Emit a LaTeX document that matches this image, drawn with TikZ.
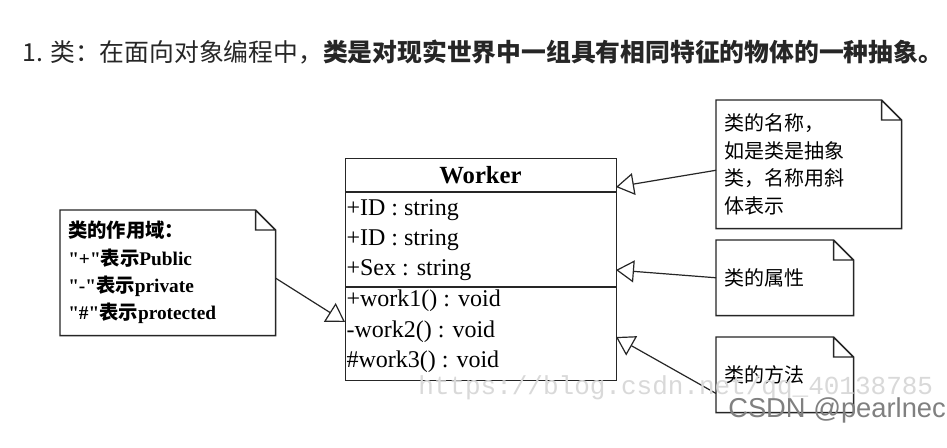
\documentclass[tikz,border=0pt]{standalone}
\usepackage{fontspec}
\setmainfont{Liberation Serif}
\setsansfont{Liberation Sans}
\setmonofont{Liberation Mono}
\newfontfamily\cjk{Noto Sans CJK SC}
\usetikzlibrary{arrows.meta, positioning}
\newcommand{\fold}{15pt}

\begin{document}
\begin{tikzpicture}[x=0.75pt, y=-0.75pt,
		note/.style={inner xsep=6pt, inner ysep=0pt, align=left, anchor=north west},
		row/.style={anchor=west, inner sep=1pt, font=\fontsize{18}{20}\selectfont},
		inherit/.style={-{Triangle[open, length=13.5pt, width=16.5pt]}, line width=0.9pt, draw=black!85}]
				\useasboundingbox[fill=white] (0,0) rectangle (947,447);
				
				\node[anchor=west, inner sep=0pt, text=black!85, font=\cjk\fontsize{18.6}{20}\selectfont] (head) at (22,52) {1. 类：在面向对象编程中，{\bfseries 类是对现实世界中一组具有相同特征的物体的一种抽象。}};
				
				\node[draw=black!85, line width=1.1pt, minimum width=203.25pt, minimum height=166.5pt, anchor=north west, inner sep=0pt] (worker) at (345,158) {};
				\node[font=\bfseries\fontsize{18.5}{20}\selectfont] (cname) at (480.5,175) {Worker};
				\coordinate (sepA) at (345,192);
				\coordinate (sepB) at (345,287);
				\draw[draw=black!85, line width=1.1pt] (sepA) -- (sepA -| worker.east) (sepB) -- (sepB -| worker.east);
				
				\node[row] (id1) at (345,210) {+ID : string};
				\node[row] (id2) at (345,240) {+ID : string};
				\node[row] (sex) at (345,270) {+Sex : string};
				\node[row] (work1) at (345,301) {+work1() : void};
				\node[row] (work2) at (345,332) {-work2() : void};
				\node[row] (work3) at (345,362) {\#work3() : void};
				
				\node[note, minimum width=161.25pt, minimum height=93.75pt, text width=149.25pt, font=\bfseries\fontsize{14.5}{20.5}\selectfont] (scope) at (60,210) {{\cjk 类的作用域：}\\\textquotedbl+\textquotedbl{\cjk 表示}Public\\\textquotedbl-\textquotedbl{\cjk 表示}private\\\textquotedbl\#\textquotedbl{\cjk 表示}protected};
				\node[note, minimum width=138.75pt, minimum height=96pt, text width=126.75pt, font=\cjk\fontsize{15}{20.8}\selectfont] (name) at (716,100) {类的名称，\\如是类是抽象\\类，名称用斜\\体表示};
				\node[note, minimum width=102.75pt, minimum height=56.25pt, text width=90.75pt, font=\cjk\fontsize{15}{20.8}\selectfont] (attr) at (716,240) {类的属性};
				\node[note, minimum width=102.75pt, minimum height=56.25pt, text width=90.75pt, font=\cjk\fontsize{15}{20.8}\selectfont] (meth) at (716,337) {类的方法};
				
				\foreach \n in {scope,name,attr,meth}
					\draw[draw=black!85, line width=1.1pt] (\n.north west) -- ([xshift=-\fold]\n.north east) -- ([yshift=-\fold]\n.north east) -- (\n.south east) -- (\n.south west) -- cycle
						([xshift=-\fold]\n.north east) -- ([xshift=-\fold, yshift=-\fold]\n.north east) -- ([yshift=-\fold]\n.north east);
				
				\coordinate (scopetip) at (345,322);
				\coordinate (nametip) at (616,187);
				\coordinate (attrtip) at (616,270);
				\coordinate (methtip) at (616,337);
				
				\draw[inherit] ([yshift=-4pt]scope.east) -- (scopetip);
				\draw[inherit] ([yshift=-4.5pt]name.west) -- (nametip);
				\draw[inherit] (attr.west) -- (attrtip);
				\draw[inherit] ([yshift=-14pt]meth.west) -- (methtip);
				
				\node[anchor=west, inner sep=0pt, text=black!15, font=\ttfamily\fontsize{19.5}{20}\selectfont] (url) at (418,388) {https://blog.csdn.net/qq\_40138785};
				\node[anchor=west, inner sep=0pt, text=black!50, font=\sffamily\fontsize{20.5}{22}\selectfont] (mark) at (728,410) {CSDN @pearlnec};
			\end{tikzpicture}
\end{document}
